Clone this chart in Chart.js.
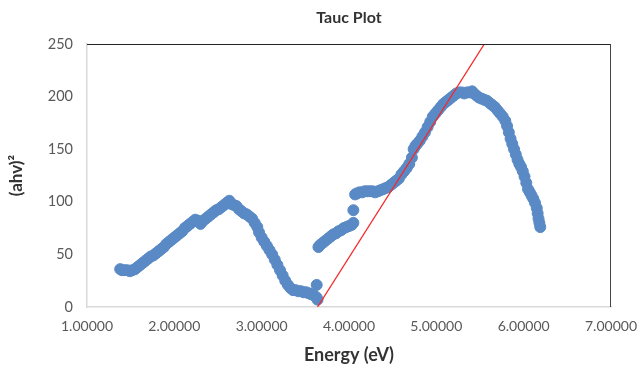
<!DOCTYPE html>
<html>
<head>
<meta charset="utf-8">
<script src="https://cdn.jsdelivr.net/npm/chart.js@4"></script>
<style>
  html, body { margin: 0; padding: 0; background: #fff; }
  #wrap { width: 641px; height: 368px; }
</style>
</head>
<body>
<div id="wrap"><canvas id="tauc"></canvas></div>
<script>
// values
const energy = [
  1.38, 1.40, 1.43, 1.46, 1.49, 1.52, 1.55, 1.58, 1.61, 1.64, 1.67, 1.70, 1.73, 1.76, 1.79, 1.82,
  1.85, 1.88, 1.91, 1.94, 1.97, 2.00, 2.03, 2.06, 2.09, 2.12, 2.15, 2.18, 2.21, 2.24, 2.27, 2.30,
  2.33, 2.36, 2.39, 2.42, 2.45, 2.48, 2.51, 2.54, 2.57, 2.60, 2.63, 2.65, 2.68, 2.71, 2.74, 2.77,
  2.80, 2.83, 2.86, 2.89, 2.92, 2.95, 2.97, 3.00, 3.03, 3.06, 3.09, 3.12, 3.15, 3.18, 3.21, 3.24,
  3.27, 3.30, 3.33, 3.36, 3.39, 3.42, 3.45, 3.48, 3.51, 3.54, 3.57, 3.60, 3.63, 3.63, 3.64,
  3.65, 3.67, 3.70, 3.73, 3.76, 3.79, 3.82, 3.85, 3.88, 3.91, 3.94, 3.97, 4.00, 4.03, 4.05, 4.05,
  4.07, 4.09, 4.12, 4.15, 4.18, 4.21, 4.24, 4.27, 4.30, 4.33, 4.36, 4.39, 4.42, 4.45, 4.48, 4.51,
  4.54, 4.57, 4.60, 4.63, 4.66, 4.69, 4.72, 4.74, 4.76, 4.78, 4.81, 4.84, 4.87, 4.90, 4.93, 4.96,
  4.99, 5.02, 5.05, 5.08, 5.11, 5.14, 5.17, 5.20, 5.23, 5.26, 5.29, 5.32, 5.35, 5.38, 5.41, 5.43,
  5.46, 5.49, 5.52, 5.55, 5.58, 5.61, 5.64, 5.67, 5.70, 5.73, 5.76, 5.79, 5.81, 5.83, 5.85, 5.87,
  5.89, 5.91, 5.93, 5.95, 5.97, 5.99, 6.01, 6.03, 6.05, 6.07, 6.09, 6.11, 6.13, 6.15, 6.16, 6.17,
  6.18, 6.19
];
const ahv2 = [
  36, 35, 35, 35, 34, 35, 36, 38, 40, 42, 44, 46, 48, 49, 51, 53,
  55, 57, 60, 62, 64, 66, 68, 70, 72, 75, 77, 79, 81, 83, 82, 79,
  82, 84, 86, 88, 90, 92, 93, 95, 97, 99, 101, 98, 97, 96, 93, 91,
  89, 88, 86, 84, 80, 76, 71, 66, 62, 58, 54, 50, 45, 40, 35, 30,
  25, 21, 18, 16, 16, 15, 15, 14, 14, 13, 12, 11, 21, 9, 7,
  57, 59, 61, 63, 65, 67, 69, 70, 72, 73, 75, 76, 77, 78, 80, 92,
  107, 108, 109, 109, 110, 110, 110, 110, 109, 110, 111, 112, 113, 114, 116, 118,
  120, 122, 126, 129, 132, 136, 142, 150, 153, 155, 158, 162, 166, 171, 176, 181,
  184, 187, 190, 193, 195, 197, 199, 201, 203, 204, 204, 203, 204, 204, 205, 203,
  201, 199, 198, 197, 196, 194, 192, 190, 187, 184, 181, 177, 172, 166, 160, 155,
  150, 145, 140, 136, 133, 129, 124, 118, 112, 109, 106, 103, 99, 94, 89, 84,
  80, 76
];
// tangent line
const fitEnergy = [3.64, 5.55];
const fitAhv2 = [0, 250];

const xTicks = { min: 1, max: 7, step: 1 };
const yTicks = { min: 0, max: 250, step: 50 };

const font = "Lato, 'Liberation Sans', sans-serif";

const frame = {
    id: 'frame',
    afterDatasetsDraw(chart) {
        const a = chart.chartArea;
        const ctx = chart.ctx;
        ctx.save();
        ctx.lineWidth = 1;
        ctx.strokeStyle = '#222222';
        ctx.beginPath();
        ctx.moveTo(a.left, a.top + 0.5);
        ctx.lineTo(a.right, a.top + 0.5);
        ctx.stroke();
        ctx.strokeStyle = '#444444';
        ctx.beginPath();
        ctx.moveTo(a.right - 0.5, a.top);
        ctx.lineTo(a.right - 0.5, a.bottom);
        ctx.stroke();
        ctx.restore();
    }
};

new Chart(document.getElementById('tauc'), {
    type: 'scatter',
    data: {
        datasets: [
            {
                label: 'Fit',
                type: 'line',
                data: fitEnergy.map((x, i) => ({ x, y: fitAhv2[i] })),
                borderColor: 'rgb(245, 40, 40)',
                borderWidth: 1.3,
                pointRadius: 0,
                order: 0
            },
            {
                label: '(ahv)²',
                data: energy.map((x, i) => ({ x, y: ahv2[i] })),
                backgroundColor: '#5a8ac5',
                borderColor: '#5a8ac5',
                pointRadius: 5.5,
                pointHoverRadius: 5.5,
                order: 1
            }
        ]
    },
    options: {
        responsive: true,
        maintainAspectRatio: false,
        animation: false,
        layout: { padding: { right: 30, left: 0, bottom: 0, top: 0 } },
        plugins: {
            legend: { display: false },
            tooltip: { enabled: false },
            title: {
                display: true,
                text: 'Tauc Plot',
                fullSize: false,
                color: '#333333',
                font: { family: font, size: 16, weight: 'bold', lineHeight: 1.2 },
                padding: { top: 8, bottom: 16.8 }
            }
        },
        scales: {
            x: {
                type: 'linear',
                min: xTicks.min,
                max: xTicks.max,
                afterFit: s => { s.height = 61; s.paddingRight = 0; s.paddingLeft = 0; },
                grid: { display: false, drawTicks: false },
                border: { display: true, color: '#d9d9d9', width: 1.5 },
                ticks: {
                    stepSize: xTicks.step,
                    padding: 11,
                    color: '#595959',
                    font: { family: font, size: 14 },
                    callback: v => v.toFixed(5)
                },
                title: {
                    display: true,
                    text: 'Energy (eV)',
                    color: '#333333',
                    font: { family: font, size: 18, weight: 'bold' },
                    padding: { top: 4, bottom: 2 }
                }
            },
            y: {
                min: yTicks.min,
                max: yTicks.max,
                afterFit: s => { s.width = 87; },
                grid: { display: false, drawTicks: false },
                border: { display: true, color: '#d9d9d9', width: 1.5 },
                ticks: {
                    stepSize: yTicks.step,
                    padding: 14,
                    color: '#595959',
                    font: { family: font, size: 14.5 }
                },
                title: {
                    display: true,
                    text: '(ahv)²',
                    color: '#333333',
                    font: { family: font, size: 17, weight: 'bold' },
                    padding: { top: 6, bottom: 0 }
                }
            }
        }
    },
    plugins: [frame]
});
</script>
</body>
</html>
